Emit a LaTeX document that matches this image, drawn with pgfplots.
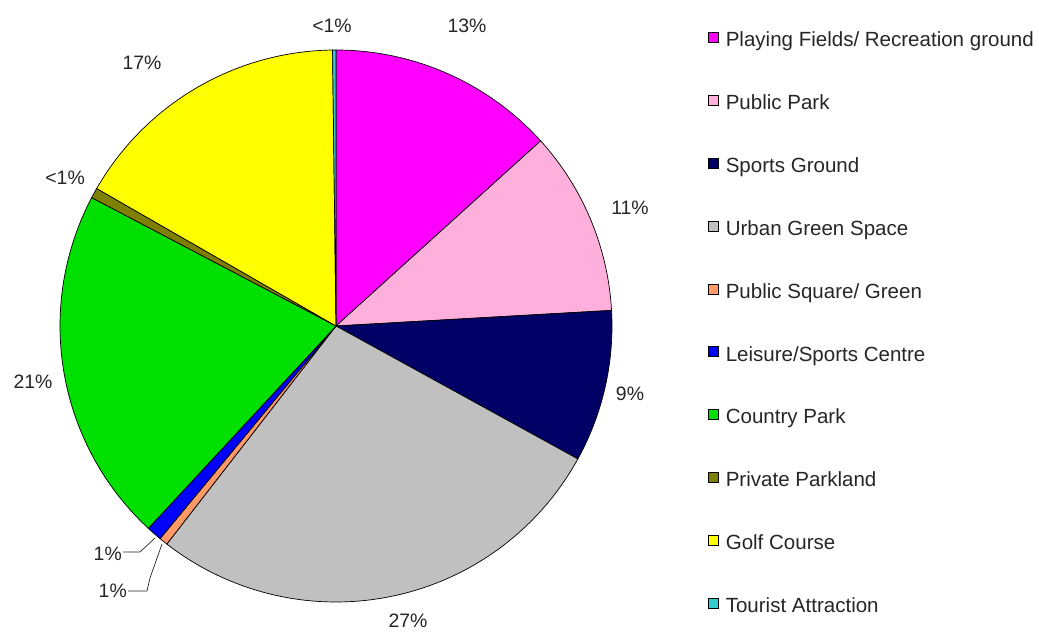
\documentclass[border=0pt]{standalone}
\usepackage{pgfplots}
\pgfplotsset{compat=1.18}
\usepackage{fontspec}
\setmainfont{Liberation Sans}
\definecolor{cPlay}{RGB}{255,0,255}
\definecolor{cPark}{RGB}{255,175,220}
\definecolor{cSport}{RGB}{0,0,102}
\definecolor{cUrban}{RGB}{192,192,192}
\definecolor{cSquare}{RGB}{255,153,102}
\definecolor{cLeisure}{RGB}{0,0,255}
\definecolor{cCountry}{RGB}{0,224,0}
\definecolor{cPrivate}{RGB}{128,128,0}
\definecolor{cGolf}{RGB}{255,255,0}
\definecolor{cTourist}{RGB}{51,204,204}
\def\cum{0}
% #1 = share in percent, #2 = colour, #3 = legend text
\newcommand\slice[3]{%
  \pgfmathsetmacro\angA{90-3.6*\cum}%
  \pgfmathsetmacro\angB{90-3.6*(\cum+#1)}%
  \edef\temp{\noexpand\addplot[draw=black, line width=0.7bp, fill=#2, domain=\angB:\angA, samples=80] ({336+276*cos(x)},{306+276*sin(x)}) -- (axis cs:336,306) -- cycle;}%
  \temp
  \addlegendentry{#3}%
  \pgfmathsetmacro\cumB{\cum+#1}\global\let\cum\cumB}
\newcommand\lbl{\fontsize{19.5}{23}\selectfont}
\newcommand\leg{\fontsize{20.6}{24}\selectfont}
\begin{document}
\begin{tikzpicture}
\path[use as bounding box] (0,0) rectangle (1039bp,632bp);
\begin{axis}[
  x=1bp, y=1bp, xmin=0, xmax=1039, ymin=0, ymax=632,
  hide axis, clip=false, anchor=south west, at={(0,0)},
  legend cell align=left,
  legend style={at={(axis cs:708,600)}, anchor=north west, draw=none, fill=none,
    inner sep=0pt, row sep=44.3bp, font=\leg, text=black!85,
    nodes={inner sep=0pt, text height=14.5bp, text depth=4bp},
    /tikz/every odd column/.append style={column sep=7bp}},
  legend image code/.code={\draw[#1, draw=black, line width=0.6bp] (0bp,-1bp) rectangle (10bp,9bp);},
]
\slice{13.3}{cPlay}{Playing Fields/ Recreation ground}
\slice{10.8}{cPark}{Public Park}
\slice{8.9}{cSport}{Sports Ground}
\slice{27.5}{cUrban}{Urban Green Space}
\slice{0.5}{cSquare}{Public Square/ Green}
\slice{0.9}{cLeisure}{Leisure/Sports Centre}
\slice{20.8}{cCountry}{Country Park}
\slice{0.6}{cPrivate}{Private Parkland}
\slice{16.5}{cGolf}{Golf Course}
\slice{0.2}{cTourist}{Tourist Attraction}
% percentage labels
\begin{scope}[every node/.style={font=\lbl, text=black!85, inner sep=0pt}]
\node[anchor=base] at (axis cs:332,599) {<1\%};
\node[anchor=base] at (axis cs:467,599) {13\%};
\node[anchor=base] at (axis cs:630,417) {11\%};
\node[anchor=base] at (axis cs:630,232) {9\%};
\node[anchor=base] at (axis cs:408,5) {27\%};
\node[anchor=base] at (axis cs:33,244) {21\%};
\node[anchor=base east] at (axis cs:85,447) {<1\%};
\node[anchor=base] at (axis cs:142,562) {17\%};
\node[anchor=base east] at (axis cs:122,72) {1\%};
\node[anchor=base east] at (axis cs:127,35) {1\%};
\end{scope}
\draw[black!85, line width=0.7bp] (axis cs:123,80) -- (axis cs:140,80) -- (axis cs:155,94);
\draw[black!85, line width=0.7bp] (axis cs:128,41) -- (axis cs:147,41) -- (axis cs:150,54) -- (axis cs:162,88);
\end{axis}
\end{tikzpicture}
\end{document}
